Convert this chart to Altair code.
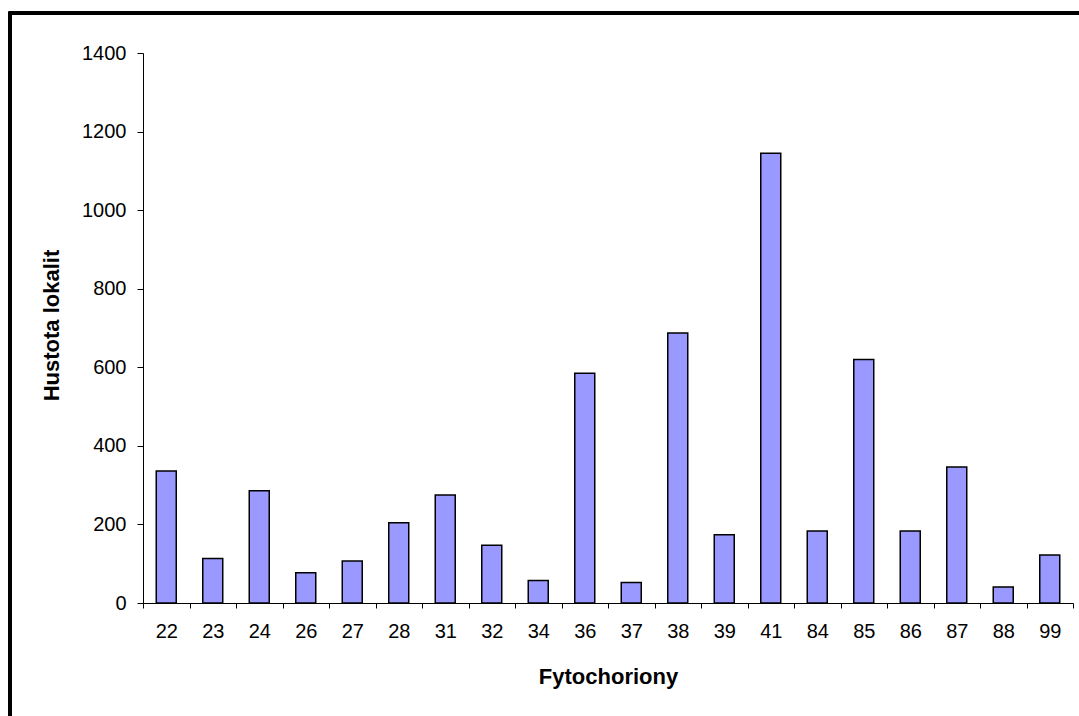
import altair as alt
import pandas as pd

# Phytochorion codes and locality density per phytochorion
fytochoriony = ["22", "23", "24", "26", "27", "28", "31", "32", "34", "36",
                "37", "38", "39", "41", "84", "85", "86", "87", "88", "99"]
hustota = [336, 113, 286, 77, 107, 204, 275, 147, 57, 585,
           52, 687, 174, 1145, 183, 620, 183, 346, 41, 122]
y_ticks = [0, 200, 400, 600, 800, 1000, 1200, 1400]

df = pd.DataFrame({"fytochorion": fytochoriony, "hustota": hustota})

FONT = "Liberation Sans"

x_enc = alt.X(
    "fytochorion:N",
    sort=fytochoriony,
    scale=alt.Scale(paddingInner=0, paddingOuter=0),
    axis=alt.Axis(
        title="Fytochoriony",
        labelAngle=0,
        tickBand="extent",
        tickSize=5,
        labelPadding=13,
        titleX=465,
        titleY=80,
        titleBaseline="alphabetic",
        titleAlign="center",
    ),
)
y_enc = alt.Y(
    "hustota:Q",
    scale=alt.Scale(domain=[0, 1400], nice=False),
    axis=alt.Axis(
        title="Hustota lokalit",
        values=y_ticks,
        format="d",
        grid=False,
        tickSize=6,
        labelPadding=11,
        titleAngle=-90,
        titleX=-85,
        titleY=272,
        titleBaseline="alphabetic",
        titleAlign="center",
    ),
)

bars = alt.Chart(df).mark_bar(
    width=alt.RelativeBandSize(0.43),
    fill="#9999ff",
    stroke="black",
    strokeWidth=1.5,
).encode(x=x_enc, y=y_enc)

# Outer chart-area frame
frame = alt.Chart(df).mark_rect(
    fill=None, stroke="black", strokeWidth=2.5, clip=False
).encode(
    x=alt.value(-133), x2=alt.value(1100),
    y=alt.value(-40), y2=alt.value(800),
)

chart = alt.layer(frame, bars).properties(
    width=930,
    height=550,
    autosize=alt.AutoSizeParams(type="none"),
    padding={"left": 143, "top": 53, "right": 6, "bottom": 113},
    background="white",
).configure_view(
    stroke=None
).configure_axis(
    domainColor="black",
    domainWidth=1,
    tickColor="black",
    tickWidth=1,
    labelFont=FONT,
    labelFontSize=20,
    labelColor="black",
    titleFont=FONT,
    titleFontSize=22,
    titleFontWeight="bold",
    titleColor="black",
)

chart.save("out.html", embed_options={"renderer": "svg", "actions": False})
